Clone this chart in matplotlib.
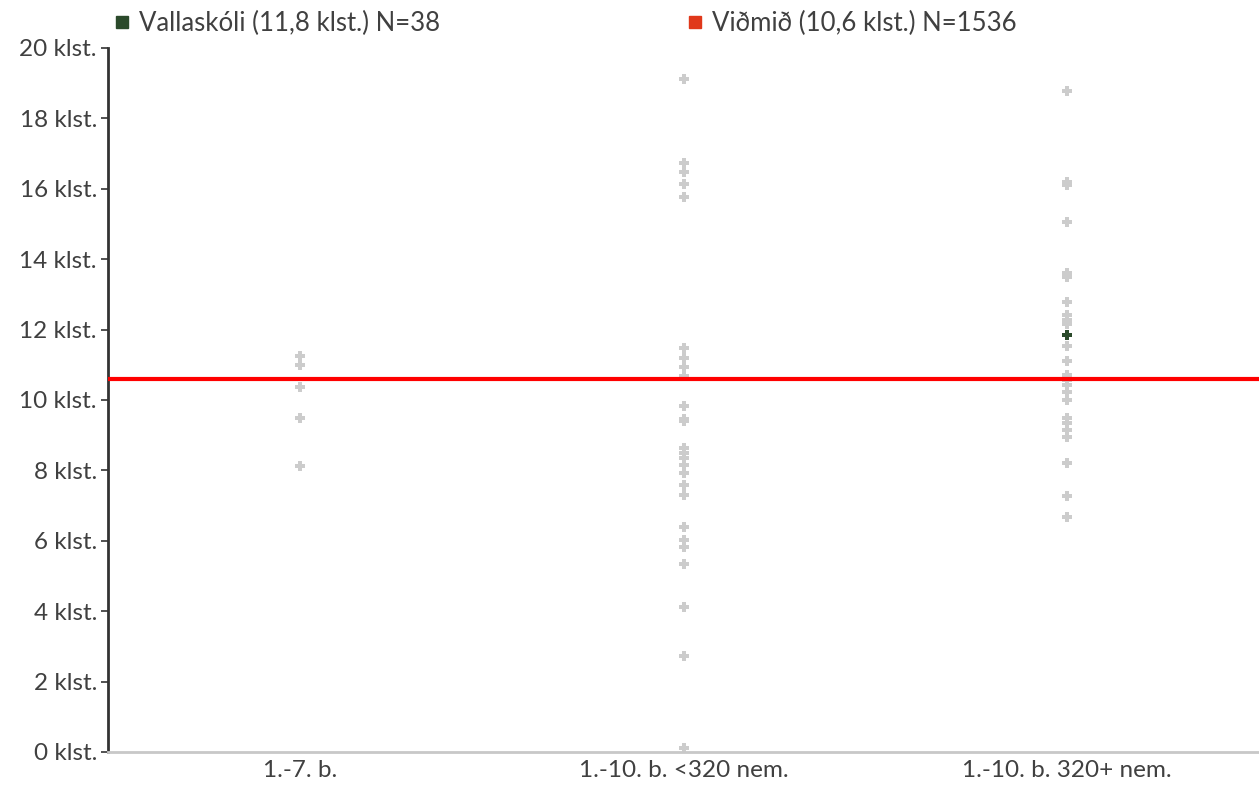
import matplotlib
matplotlib.use("Agg")
import matplotlib.pyplot as plt
from matplotlib.lines import Line2D

plt.rcParams['font.family'] = ['Lato', 'DejaVu Sans']

categories = ["1.-7. b.", "1.-10. b. <320 nem.", "1.-10. b. 320+ nem."]
group1 = [11.25, 10.99, 10.37, 9.49, 8.13]
group2 = [19.12, 16.72, 16.48, 16.14, 15.76, 11.47, 11.18, 10.93, 10.69, 9.84,
          9.45, 9.40, 8.63, 8.49, 8.36, 8.15, 7.92, 7.59, 7.30, 6.40, 6.02,
          5.83, 5.33, 4.13, 2.74, 0.12]
group3 = [18.79, 16.20, 16.11, 15.07, 13.60, 13.49, 12.79, 12.41, 12.27, 12.15,
          11.53, 11.11, 10.71, 10.57, 10.43, 10.24, 10.00, 9.48, 9.34, 9.15,
          8.94, 8.20, 7.28, 6.68]
school_value = 11.84
school_group = 2
benchmark = 10.6
yticks = [0, 2, 4, 6, 8, 10, 12, 14, 16, 18, 20]
ytick_labels = [f"{v} klst." for v in yticks]
legend_labels = ["Vallaskóli (11,8 klst.) N=38", "Viðmið (10,6 klst.) N=1536"]

groups = [group1, group2, group3]

fig = plt.figure(figsize=(12.59, 7.87), dpi=100)
ax = fig.add_axes([108/1259, 1-752/787, 1-108/1259, (752-48)/787])

grey = "#cccccc"
for i, g in enumerate(groups):
    ax.scatter([i]*len(g), g, marker="P", s=50, color=grey, linewidths=0, zorder=2)
ax.scatter([school_group], [school_value], marker="P", s=50, color="#2b4a2b", linewidths=0, zorder=4)
ax.axhline(benchmark, color="#ff0000", linewidth=3.0, zorder=3)

ax.set_xlim(-0.5, 2.5)
ax.set_ylim(0, 20)
ax.set_xticks(range(len(categories)))
ax.set_xticklabels(categories)
ax.set_yticks(yticks)
ax.set_yticklabels(ytick_labels)

for s in ["top", "right"]:
    ax.spines[s].set_visible(False)
ax.spines["left"].set_color("#333333")
ax.spines["left"].set_linewidth(2.0)
ax.spines["bottom"].set_color("#c8c8c8")
ax.spines["bottom"].set_linewidth(2.0)

fs = 17.5
ax.tick_params(axis="y", direction="out", length=5, width=1.2, color="#333333",
               labelsize=fs, labelcolor="#404040", pad=3)
ax.tick_params(axis="x", length=0, labelsize=fs, labelcolor="#404040", pad=6)

lfs = 18.5
h1 = Line2D([], [], marker="s", linestyle="none", color="#2b4a2b", markersize=8)
h2 = Line2D([], [], marker="s", linestyle="none", color="#e0381a", markersize=8)
leg1 = fig.legend([h1], [legend_labels[0]], loc="center left",
                  bbox_to_anchor=(116/1259, 1-23/787), frameon=False,
                  fontsize=lfs, handlelength=0.45, handletextpad=0.45,
                  borderaxespad=0, borderpad=0)
leg2 = fig.legend([h2], [legend_labels[1]], loc="center left",
                  bbox_to_anchor=(689/1259, 1-23/787), frameon=False,
                  fontsize=lfs, handlelength=0.45, handletextpad=0.45,
                  borderaxespad=0, borderpad=0)
for leg in (leg1, leg2):
    for t in leg.get_texts():
        t.set_color("#404040")

fig.savefig("out.png", dpi=100)
